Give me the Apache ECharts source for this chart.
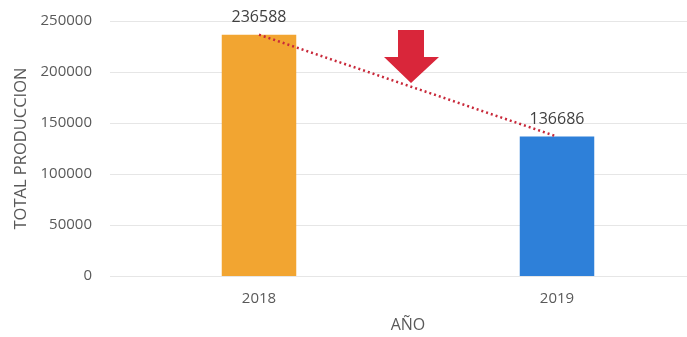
<!DOCTYPE html>
<html><head><meta charset="utf-8">
<script src="https://cdn.jsdelivr.net/npm/echarts@6/dist/echarts.min.js"></script>
<style>html,body{margin:0;padding:0;background:#fff}#c{width:687px;height:337px}</style>
</head><body><div id="c"></div>
<script>
const categories = ['2018', '2019'];
const values = [236588, 136686];
const barColors = ['#F2A531', '#2E80D9'];
const yTicks = [0, 50000, 100000, 150000, 200000, 250000];

const chart = echarts.init(document.getElementById('c'));
const font = 'Open Sans';
chart.setOption({
  animation: false,
  backgroundColor: '#ffffff',
  grid: { left: 110, top: 21, width: 596, bottom: 61, containLabel: false, outerBoundsMode: 'none' },
  xAxis: {
    type: 'category', data: categories,
    name: 'AÑO', nameLocation: 'middle', nameGap: 41,
    nameTextStyle: { color: '#595959', fontSize: 16, fontFamily: font },
    axisLine: { show: false }, axisTick: { show: false },
    axisLabel: { color: '#595959', fontSize: 15, fontFamily: font, margin: 15 }
  },
  yAxis: {
    type: 'value', min: yTicks[0], max: yTicks[yTicks.length - 1], interval: 50000,
    name: 'TOTAL PRODUCCION', nameLocation: 'middle', nameGap: 73, nameRotate: 90,
    nameTextStyle: { color: '#595959', fontSize: 16.5, fontFamily: font },
    axisLabel: { color: '#595959', fontSize: 15, fontFamily: font, margin: 18, formatter: v => String(v) },
    splitLine: { lineStyle: { color: '#e6e6e6', width: 1 } }
  },
  series: [{
    type: 'bar', barWidth: '25%',
    data: values.map((v, i) => ({ value: v, itemStyle: { color: barColors[i] } })),
    label: { show: true, position: 'top', distance: 9, color: '#404040', fontSize: 16, fontFamily: font }
  }, {
    type: 'line', data: values, symbol: 'none', z: 5,
    lineStyle: { color: '#C8293A', width: 2.5, type: [2, 3] }
  }],
  graphic: [{
    type: 'polygon', z: 10,
    shape: { points: [[398, 30], [424, 30], [424, 57], [439, 57], [411, 83], [384, 57], [398, 57]] },
    style: { fill: '#D9263A' }
  }]
});
</script></body></html>
